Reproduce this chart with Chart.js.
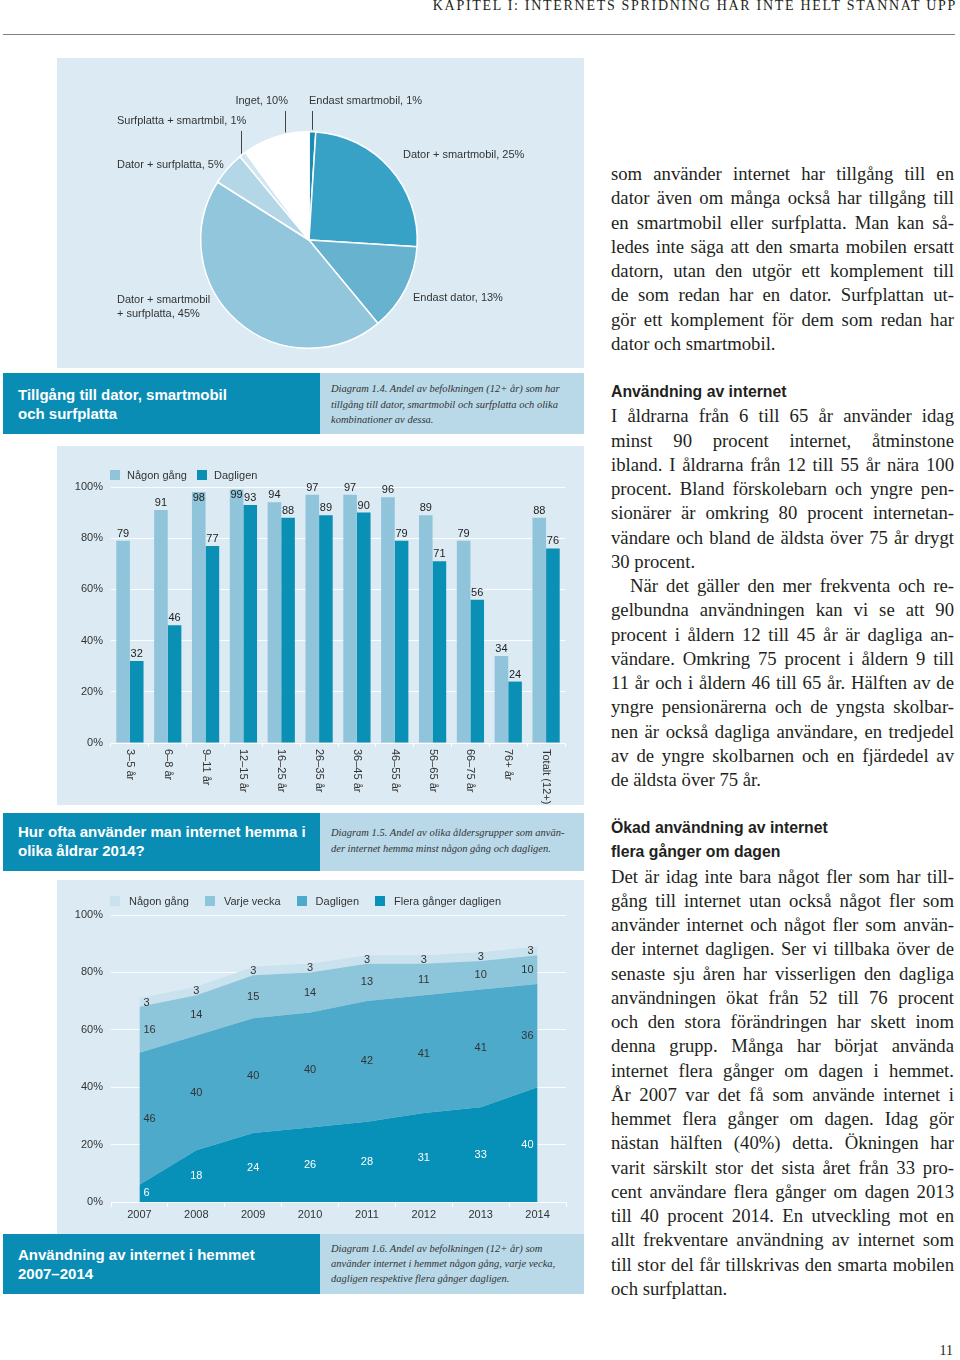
<!DOCTYPE html>
<html lang="sv">
<head>
<meta charset="UTF-8">
<meta name="viewport" content="width=device-width, initial-scale=1.0">
<title>Kapitel 1: Internets spridning har inte helt stannat upp</title>
<script src="https://cdn.jsdelivr.net/npm/chart.js"></script>
<style>
  * { box-sizing: border-box; margin: 0; padding: 0; }

  body {
    position: relative;
    width: 960px;
    height: 1360px;
    overflow: hidden;
    background: #fff;
    color: #231f20;
    font-family: "Liberation Sans", Arial, sans-serif;
  }

  .abs { position: absolute; }

  .runhead {
    top: -1px;
    right: 3px;
    font-family: "Liberation Serif", serif;
    font-size: 14px;
    line-height: 14px;
    letter-spacing: 1.7px;
    white-space: nowrap;
  }

  .rule { left: 3px; top: 34px; width: 952px; height: 1px; background: #808080; }

  .panel { position: absolute; background: #dcebf3; }
  .panel canvas { position: absolute; left: 0; top: 0; }

  .band-dark {
    background: #0a8db5;
    color: #fff;
    font-weight: bold;
    font-size: 15px;
    line-height: 19px;
    padding-left: 15px;
  }

  .band-light {
    background: #b9d9e9;
    color: #333;
    font-family: "Liberation Serif", serif;
    font-style: italic;
    font-size: 10.5px;
    line-height: 15.5px;
    padding-left: 11px;
  }

  .legend { display: flex; align-items: center; height: 12px; font-size: 11px; color: #333; white-space: nowrap; }
  .legend .sw { display: inline-block; width: 10px; height: 10px; }

  .col {
    left: 611px;
    width: 343px;
    font-family: "Liberation Serif", serif;
    font-size: 18.7px;
    line-height: 24.25px;
  }
  .col div { text-align: justify; text-align-last: justify; }
  .col div.end { text-align-last: left; }
  .col div.ind { text-indent: 19px; }
  .col h3 { font-family: "Liberation Sans", Arial, sans-serif; font-weight: bold; font-size: 15.8px; }

  .folio { right: 7px; top: 1343px; font-family: "Liberation Serif", serif; font-size: 14px; }
</style>
</head>
<body>
  <div class="abs runhead">KAPITEL I: INTERNETS SPRIDNING HAR INTE HELT STANNAT UPP</div>
  <div class="abs rule"></div>

  <!-- diagram 1.4 -->
  <div class="panel" style="left:57px; top:58px; width:527px; height:310px;">
    <canvas id="pieChart" width="527" height="310"></canvas>
  </div>

  <div class="abs band-dark" style="left:3px; top:373px; width:317px; height:61px; padding-top:12px;">Tillgång till dator, smartmobil<br>och surfplatta</div>
  <div class="abs band-light" style="left:320px; top:373px; width:264px; height:61px; padding-top:8px;">Diagram 1.4. Andel av befolkningen (12+ år) som har<br>tillgång till dator, smartmobil och surfplatta och olika<br>kombinationer av dessa.</div>

  <!-- diagram 1.5 -->
  <div class="panel" style="left:57px; top:446px; width:527px; height:359px;">
    <canvas id="barChart" width="527" height="359"></canvas>
  </div>
  <div class="abs legend" id="barLegend" style="left:110px; top:469px;"></div>

  <div class="abs band-dark" style="left:3px; top:813px; width:317px; height:58px; padding-top:9px;">Hur ofta använder man internet hemma i<br>olika åldrar 2014?</div>
  <div class="abs band-light" style="left:320px; top:813px; width:264px; height:58px; padding-top:12px;">Diagram 1.5. Andel av olika åldersgrupper som använ-<br>der internet hemma minst någon gång och dagligen.</div>

  <!-- diagram 1.6 -->
  <div class="panel" style="left:57px; top:880px; width:527px; height:354px;">
    <canvas id="areaChart" width="527" height="354"></canvas>
  </div>
  <div class="abs legend" id="areaLegend" style="left:110px; top:895px;"></div>

  <div class="abs band-dark" style="left:3px; top:1234px; width:317px; height:60px; padding-top:11px;">Användning av internet i hemmet<br>2007–2014</div>
  <div class="abs band-light" style="left:320px; top:1234px; width:264px; height:60px; padding-top:7px; line-height:15px;">Diagram 1.6. Andel av befolkningen (12+ år) som<br>använder internet i hemmet någon gång, varje vecka,<br>dagligen respektive flera gånger dagligen.</div>

  <!-- brödtext -->
  <div class="abs col" style="top:162px;">
    <div>som använder internet har tillgång till en</div>
    <div>dator även om många också har tillgång till</div>
    <div>en smartmobil eller surfplatta. Man kan så-</div>
    <div>ledes inte säga att den smarta mobilen ersatt</div>
    <div>datorn, utan den utgör ett komplement till</div>
    <div>de som redan har en dator. Surfplattan ut-</div>
    <div>gör ett komplement för dem som redan har</div>
    <div class="end">dator och smartmobil.</div>
  </div>

  <div class="abs col" style="top:380px;">
    <h3>Användning av internet</h3>
    <div>I åldrarna från 6 till 65 år använder idag</div>
    <div>minst 90 procent internet, åtminstone</div>
    <div>ibland. I åldrarna från 12 till 55 år nära 100</div>
    <div>procent. Bland förskolebarn och yngre pen-</div>
    <div>sionärer är omkring 80 procent internetan-</div>
    <div>vändare och bland de äldsta över 75 år drygt</div>
    <div class="end">30 procent.</div>
    <div class="ind">När det gäller den mer frekventa och re-</div>
    <div>gelbundna användningen kan vi se att 90</div>
    <div>procent i åldern 12 till 45 år är dagliga an-</div>
    <div>vändare. Omkring 75 procent i åldern 9 till</div>
    <div>11 år och i åldern 46 till 65 år. Hälften av de</div>
    <div>yngre pensionärerna och de yngsta skolbar-</div>
    <div>nen är också dagliga användare, en tredjedel</div>
    <div>av de yngre skolbarnen och en fjärdedel av</div>
    <div class="end">de äldsta över 75 år.</div>
  </div>

  <div class="abs col" style="top:816px;">
    <h3>Ökad användning av internet<br>flera gånger om dagen</h3>
    <div>Det är idag inte bara något fler som har till-</div>
    <div>gång till internet utan också något fler som</div>
    <div>använder internet och något fler som använ-</div>
    <div>der internet dagligen. Ser vi tillbaka över de</div>
    <div>senaste sju åren har visserligen den dagliga</div>
    <div>användningen ökat från 52 till 76 procent</div>
    <div>och den stora förändringen har skett inom</div>
    <div>denna grupp. Många har börjat använda</div>
    <div>internet flera gånger om dagen i hemmet.</div>
    <div>År 2007 var det få som använde internet i</div>
    <div>hemmet flera gånger om dagen. Idag gör</div>
    <div>nästan hälften (40%) detta. Ökningen har</div>
    <div>varit särskilt stor det sista året från 33 pro-</div>
    <div>cent användare flera gånger om dagen 2013</div>
    <div>till 40 procent 2014. En utveckling mot en</div>
    <div>allt frekventare användning av internet som</div>
    <div>till stor del får tillskrivas den smarta mobilen</div>
    <div class="end">och surfplattan.</div>
  </div>

  <div class="abs folio">11</div>

  <script>
    // diagram 1.4 - tillgång (från klockan 12, medurs)
    const pieNames = ['Endast smartmobil', 'Dator + smartmobil', 'Endast dator', 'Dator + smartmobil\n+ surfplatta', 'Dator + surfplatta', 'Surfplatta + smartmbil', 'Inget'];
    const pieValues = [1, 25, 13, 45, 5, 1, 10];

    // diagram 1.5 - användning per åldersgrupp
    const ageGroups = ['3–5 år', '6–8 år', '9–11 år', '12–15 år', '16–25 år', '26–35 år', '36–45 år', '46–55 år', '56–65 år', '66–75 år', '76+ år', 'Totalt (12+)'];
    const nagonGang = [79, 91, 98, 99, 94, 97, 97, 96, 89, 79, 34, 88];
    const dagligen = [32, 46, 77, 93, 88, 89, 90, 79, 71, 56, 24, 76];

    // diagram 1.6 - användning i hemmet, underst först
    const years = ['2007', '2008', '2009', '2010', '2011', '2012', '2013', '2014'];
    const hemFleraGanger = [6, 18, 24, 26, 28, 31, 33, 40];
    const hemDagligen = [46, 40, 40, 40, 42, 41, 41, 36];
    const hemVarjeVecka = [16, 14, 15, 14, 13, 11, 10, 10];
    const hemNagonGang = [3, 3, 3, 3, 3, 3, 3, 3];

    const percentTicks = [0, 20, 40, 60, 80, 100];

    const SANS = '"Liberation Sans", Arial, sans-serif';
    Chart.defaults.font.family = SANS;
    Chart.defaults.font.size = 11;
    Chart.defaults.color = '#333';
    Chart.defaults.animation = false;

    // etiketter runt cirkeln
    const pieLabelSpots = [
      { x: 252, y: 43, leader: 255 },
      { x: 346, y: 97 },
      { x: 356, y: 240 },
      { x: 60, y: 242 },
      { x: 60, y: 107 },
      { x: 60, y: 63, leader: 184 },
      { x: 231, y: 43, align: 'right', leader: 228 }
    ];

    const pieLabels = {
      id: 'pieLabels',
      afterDraw(chart) {
        const ctx = chart.ctx;
        const arcs = chart.getDatasetMeta(0).data;
        ctx.save();
        ctx.font = '11px ' + SANS;
        ctx.fillStyle = '#333';
        ctx.strokeStyle = '#444';
        ctx.lineWidth = 1;
        ctx.textBaseline = 'middle';
        arcs.forEach((arc, i) => {
          const spot = pieLabelSpots[i];
          const lines = (pieNames[i] + ', ' + pieValues[i] + '%').split('\n');
          ctx.textAlign = spot.align || 'left';
          lines.forEach((t, k) => ctx.fillText(t, spot.x, spot.y + k * 13.5));
          if (spot.leader !== undefined) {
            const dx = spot.leader - arc.x;
            const yEdge = arc.y - Math.sqrt(arc.outerRadius * arc.outerRadius - dx * dx);
            ctx.beginPath();
            ctx.moveTo(spot.leader + 0.5, spot.y + 10);
            ctx.lineTo(spot.leader + 0.5, yEdge - 2);
            ctx.stroke();
          }
        });
        ctx.restore();
      }
    };

    new Chart(document.getElementById('pieChart'), {
      type: 'pie',
      data: {
        labels: pieNames,
        datasets: [{
          data: pieValues,
          backgroundColor: ['#1b8db4', '#37a2c6', '#67b2cf', '#91c6dd', '#b4d7e8', '#d1e6f0', '#ffffff'],
          borderColor: '#ffffff',
          borderWidth: 1.5
        }]
      },
      options: {
        responsive: false,
        layout: { padding: { left: 143, right: 166, top: 73, bottom: 19 } },
        plugins: { legend: { display: false }, tooltip: { enabled: false } }
      },
      plugins: [pieLabels]
    });

    function htmlLegend(el, items, gap, spacing) {
      items.forEach((it, i) => {
        const sw = document.createElement('span');
        sw.className = 'sw';
        sw.style.background = it.color;
        sw.style.marginRight = gap + 'px';
        const tx = document.createElement('span');
        tx.textContent = it.label;
        if (i < items.length - 1) tx.style.marginRight = spacing + 'px';
        el.appendChild(sw);
        el.appendChild(tx);
      });
    }

    const barValues = {
      id: 'barValues',
      afterDatasetsDraw(chart) {
        const ctx = chart.ctx;
        ctx.save();
        ctx.font = '11px ' + SANS;
        ctx.fillStyle = '#222';
        ctx.textAlign = 'center';
        chart.data.datasets.forEach((ds, di) => {
          chart.getDatasetMeta(di).data.forEach((bar, i) => {
            const v = ds.data[i];
            if (v >= 98) {
              // ingen plats ovanför, etiketten hamnar i stapeln
              ctx.textBaseline = 'top';
              ctx.fillText(v, bar.x, bar.y);
            } else {
              ctx.textBaseline = 'alphabetic';
              ctx.fillText(v, bar.x, bar.y - 4);
            }
          });
        });
        ctx.restore();
      }
    };

    // kategorier skrivs nedåt, lästa uppifrån
    const downLabels = {
      id: 'downLabels',
      afterDraw(chart) {
        const xs = chart.scales.x;
        const ctx = chart.ctx;
        ctx.save();
        ctx.font = '11px ' + SANS;
        ctx.fillStyle = '#333';
        ctx.textAlign = 'left';
        ctx.textBaseline = 'middle';
        chart.data.labels.forEach((lab, i) => {
          ctx.save();
          ctx.translate(xs.getPixelForValue(i), xs.top + 6);
          ctx.rotate(Math.PI / 2);
          ctx.fillText(lab, 0, 0);
          ctx.restore();
        });
        ctx.restore();
      }
    };

    const yPercent = (width) => ({
      min: 0,
      max: 100,
      afterBuildTicks(s) { s.ticks = percentTicks.map(v => ({ value: v })); },
      afterFit(s) { s.width = width; },
      ticks: { padding: 8, color: '#333', callback: v => v + '%' },
      grid: { color: 'rgba(255,255,255,0.9)', drawTicks: false },
      border: { display: false }
    });

    const barChart = new Chart(document.getElementById('barChart'), {
      type: 'bar',
      data: {
        labels: ageGroups,
        datasets: [
          { label: 'Någon gång', data: nagonGang, backgroundColor: '#8fc4db', categoryPercentage: 0.72, barPercentage: 1 },
          { label: 'Dagligen', data: dagligen, backgroundColor: '#0a8fb5', categoryPercentage: 0.72, barPercentage: 1 }
        ]
      },
      options: {
        responsive: false,
        layout: { padding: { top: 41, right: 19, left: 0, bottom: 0 } },
        plugins: { legend: { display: false }, tooltip: { enabled: false } },
        scales: {
          x: {
            ticks: { display: false },
            grid: { drawOnChartArea: false, color: '#ffffff', tickLength: 4, offset: true },
            border: { color: '#ffffff' },
            afterFit(s) { s.height = 62; }
          },
          y: yPercent(54)
        }
      },
      plugins: [barValues, downLabels]
    });

    htmlLegend(document.getElementById('barLegend'),
      barChart.data.datasets.map(d => ({ label: d.label, color: d.backgroundColor })), 7, 10);

    const areaValues = {
      id: 'areaValues',
      afterDatasetsDraw(chart) {
        const xs = chart.scales.x, ys = chart.scales.y;
        const ctx = chart.ctx;
        const n = chart.data.labels.length;
        const base = new Array(n).fill(0);
        ctx.save();
        ctx.font = '11px ' + SANS;
        ctx.textBaseline = 'middle';
        chart.data.datasets.forEach((ds, di) => {
          ctx.fillStyle = di === 0 ? '#ffffff' : '#333';
          ds.data.forEach((v, i) => {
            const y = ys.getPixelForValue(base[i] + v / 2);
            base[i] += v;
            let x = xs.getPixelForValue(i);
            if (i === 0) { ctx.textAlign = 'left'; x += 4; }
            else if (i === n - 1) { ctx.textAlign = 'right'; x -= 4; }
            else ctx.textAlign = 'center';
            ctx.fillText(v, x, y);
          });
        });
        ctx.restore();
      }
    };

    const areaChart = new Chart(document.getElementById('areaChart'), {
      type: 'line',
      data: {
        labels: years,
        datasets: [
          { label: 'Flera gånger dagligen', data: hemFleraGanger, backgroundColor: '#0791b8', fill: 'origin' },
          { label: 'Dagligen', data: hemDagligen, backgroundColor: '#4eaacb', fill: '-1' },
          { label: 'Varje vecka', data: hemVarjeVecka, backgroundColor: '#8dc5db', fill: '-1' },
          { label: 'Någon gång', data: hemNagonGang, backgroundColor: '#c9e2ee', fill: '-1' }
        ]
      },
      options: {
        responsive: false,
        layout: { padding: { top: 35, right: 18, left: 0, bottom: 0 } },
        elements: {
          point: { radius: 0, hoverRadius: 0 },
          line: { borderWidth: 0, borderColor: 'rgba(0,0,0,0)', tension: 0 }
        },
        plugins: { legend: { display: false }, tooltip: { enabled: false } },
        scales: {
          x: {
            offset: true,
            ticks: { padding: 1, color: '#333', maxRotation: 0 },
            grid: { drawOnChartArea: false, color: '#ffffff', tickLength: 5, offset: true },
            border: { color: '#ffffff' },
            afterFit(s) { s.height = 32; }
          },
          y: Object.assign(yPercent(54), { stacked: true })
        }
      },
      plugins: [areaValues]
    });

    htmlLegend(document.getElementById('areaLegend'),
      areaChart.data.datasets.slice().reverse().map(d => ({ label: d.label, color: d.backgroundColor })), 9, 16);
  </script>
</body>
</html>
